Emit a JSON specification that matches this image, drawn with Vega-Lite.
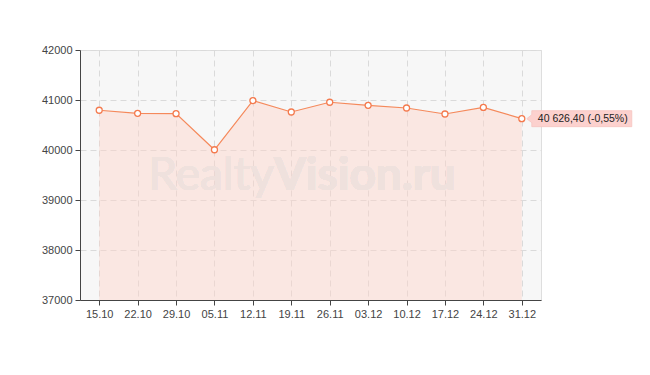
{
  "$schema": "https://vega.github.io/schema/vega-lite/v6.json",
  "width": 461,
  "height": 250,
  "autosize": "none",
  "padding": {"left": 80, "top": 50, "right": 109, "bottom": 75},
  "background": "white",
  "config": {
    "view": {"fill": "#f7f7f7", "stroke": "#dedede", "strokeWidth": 1},
    "axis": {
      "labelFont": "Liberation Sans",
      "labelFontSize": 11,
      "labelColor": "#444444",
      "domainColor": "#444444",
      "tickColor": "#444444",
      "tickSize": 5,
      "labelPadding": 3,
      "gridColor": "#dadada",
      "gridDash": [6, 4],
      "title": null
    }
  },
  "data": {
    "values": [
      {"date": "15.10", "value": 40795},
      {"date": "22.10", "value": 40733},
      {"date": "29.10", "value": 40727},
      {"date": "05.11", "value": 40005},
      {"date": "12.11", "value": 40988},
      {"date": "19.11", "value": 40760},
      {"date": "26.11", "value": 40955},
      {"date": "03.12", "value": 40893},
      {"date": "10.12", "value": 40840},
      {"date": "17.12", "value": 40720},
      {"date": "24.12", "value": 40851},
      {"date": "31.12", "value": 40626.4}
    ]
  },
  "encoding": {
    "x": {
      "field": "date",
      "type": "ordinal",
      "sort": null,
      "scale": {"type": "point", "padding": 0.5},
      "axis": {"labelAngle": 0, "grid": true}
    },
    "y": {
      "field": "value",
      "type": "quantitative",
      "scale": {"domain": [37000, 42000], "nice": false, "zero": false},
      "axis": {"values": [37000, 38000, 39000, 40000, 41000, 42000], "format": "d", "grid": true}
    }
  },
  "layer": [
    {
      "mark": {"type": "area", "color": "#fcd3c8", "opacity": 0.45},
      "encoding": {"y2": {"datum": 37000}}
    },
    {
      "mark": {"type": "text", "text": "Realty", "align": "right", "baseline": "alphabetic", "dx": 21, "font": "Lato", "fontSize": 46, "fill": "#efe1dd"},
      "encoding": {"x": {"datum": "12.11"}, "y": {"datum": 39200}}
    },
    {
      "mark": {"type": "text", "text": "Vision.ru", "align": "left", "baseline": "alphabetic", "dx": 21, "font": "Lato", "fontWeight": "bold", "fontSize": 46, "fill": "#efe1dd"},
      "encoding": {"x": {"datum": "12.11"}, "y": {"datum": 39200}}
    },
    {
      "mark": {"type": "line", "color": "#f5895b", "strokeWidth": 1.2}
    },
    {
      "mark": {"type": "point", "filled": true, "fill": "#ffffff", "stroke": "#f47a4e", "strokeWidth": 1.3, "size": 36, "opacity": 1}
    },
    {
      "transform": [{"filter": "datum.date === '31.12'"}],
      "mark": {"type": "point", "shape": "M0.1,0 L0.2,-0.08 L0.2,-0.16 L2.2,-0.16 L2.2,0.16 L0.2,0.16 L0.2,0.08 Z", "size": 10000, "filled": true, "fill": "#fcd1ce", "stroke": "#f6c4c0", "strokeWidth": 0.8, "opacity": 1}
    },
    {
      "transform": [{"filter": "datum.date === '31.12'"}],
      "mark": {"type": "text", "text": "40 626,40 (-0,55%)", "align": "left", "baseline": "middle", "dx": 16, "font": "Liberation Sans", "fontSize": 10.5, "fill": "#222222"}
    }
  ]
}
